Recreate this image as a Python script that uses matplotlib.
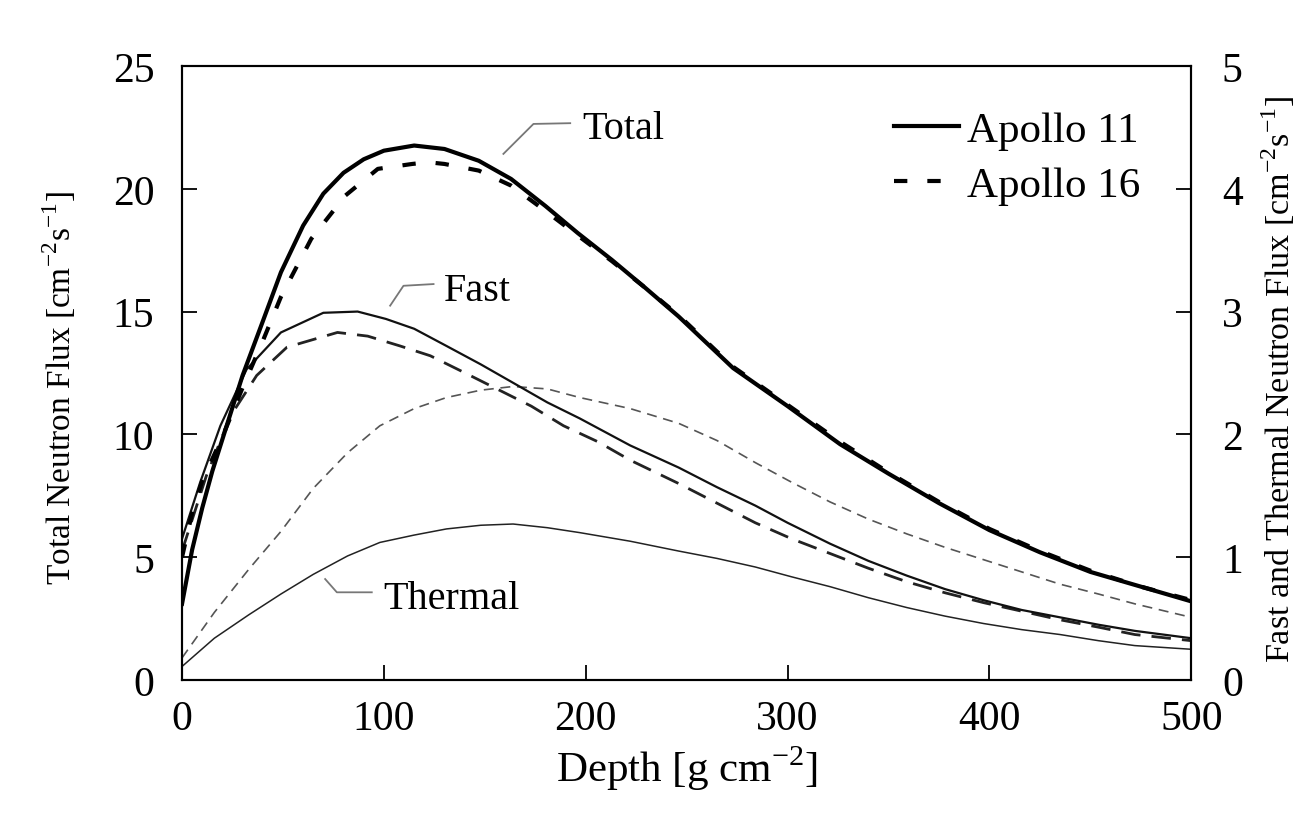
import matplotlib
matplotlib.use("Agg")
import matplotlib.pyplot as plt

plt.rcParams['font.family'] = ['Liberation Serif', 'DejaVu Serif']
plt.rcParams['mathtext.fontset'] = 'custom'
plt.rcParams['mathtext.rm'] = 'Liberation Serif'

# total neutron flux (left axis)
depth_tot11 = [0, 5, 10, 15, 20, 30, 40, 49, 60, 70, 80, 90, 100, 115, 130, 147, 163, 180, 196, 213, 229, 246, 273, 300, 326, 350, 375, 400, 425, 450, 475, 500]
total_a11 = [3.1, 5.3, 7.0, 8.5, 9.8, 12.4, 14.6, 16.6, 18.5, 19.8, 20.65, 21.2, 21.55, 21.76, 21.62, 21.14, 20.4, 19.3, 18.2, 17.1, 16.0, 14.8, 12.7, 11.15, 9.6, 8.4, 7.2, 6.1, 5.2, 4.4, 3.8, 3.2]
depth_tot16 = [0, 5, 10, 20, 30, 40, 49, 64, 81, 97, 114, 122, 130, 147, 163, 180, 196, 213, 229, 246, 273, 300, 326, 350, 375, 400, 425, 450, 475, 500]
total_a16 = [5.0, 6.8, 8.1, 9.9, 11.9, 13.8, 15.6, 17.96, 19.73, 20.81, 21.01, 21.08, 21.01, 20.74, 20.13, 19.1, 18.1, 17.05, 16.0, 14.85, 12.75, 11.2, 9.7, 8.45, 7.25, 6.15, 5.25, 4.45, 3.8, 3.25]

# fast and thermal flux (right axis)
depth_fast11 = [0, 9, 19, 32, 49, 70, 87, 101, 115, 131, 148, 164, 181, 197, 222, 246, 265, 284, 300, 321, 340, 359, 378, 397, 416, 435, 454, 472, 500]
fast_a11 = [1.15, 1.61, 2.07, 2.53, 2.83, 2.99, 3.0, 2.94, 2.86, 2.72, 2.57, 2.42, 2.26, 2.13, 1.91, 1.73, 1.57, 1.42, 1.28, 1.11, 0.97, 0.85, 0.74, 0.65, 0.57, 0.51, 0.45, 0.40, 0.34]
depth_fast16 = [0, 12, 24, 37, 52, 77, 92, 108, 123, 139, 156, 173, 189, 206, 222, 246, 265, 284, 302, 321, 340, 359, 378, 397, 416, 435, 454, 472, 500]
fast_a16 = [1.05, 1.66, 2.15, 2.48, 2.71, 2.83, 2.80, 2.72, 2.64, 2.51, 2.37, 2.23, 2.07, 1.94, 1.79, 1.60, 1.44, 1.28, 1.15, 1.03, 0.91, 0.80, 0.71, 0.63, 0.56, 0.49, 0.43, 0.37, 0.32]
depth_th = [0, 16, 33, 49, 65, 82, 98, 115, 131, 148, 164, 181, 197, 222, 246, 265, 284, 302, 321, 340, 359, 378, 397, 416, 435, 454, 472, 500]
thermal_a11 = [0.11, 0.34, 0.53, 0.70, 0.86, 1.01, 1.12, 1.18, 1.23, 1.26, 1.27, 1.24, 1.20, 1.13, 1.05, 0.99, 0.92, 0.84, 0.76, 0.67, 0.59, 0.52, 0.46, 0.41, 0.37, 0.32, 0.28, 0.25]
thermal_a16 = [0.18, 0.55, 0.90, 1.21, 1.56, 1.85, 2.07, 2.21, 2.30, 2.36, 2.39, 2.37, 2.30, 2.21, 2.09, 1.95, 1.77, 1.61, 1.45, 1.31, 1.19, 1.08, 0.98, 0.88, 0.78, 0.70, 0.62, 0.51]

unit = '[cm$^{\\mathregular{-2}}$s$^{\\mathregular{-1}}$]'

fig = plt.figure(figsize=(13.03, 8.37), dpi=100)
ax = fig.add_axes([0.1397, 0.1864, 0.7746, 0.7336])
ax2 = ax.twinx()

# right axis curves
ax2.plot(depth_th, thermal_a16, color='#555555', lw=1.2, dashes=(6, 4))
ax2.plot(depth_th, thermal_a11, color='#222222', lw=1.1)
ax2.plot(depth_fast16, fast_a16, color='#222222', lw=2.0, dashes=(7, 4))
ax2.plot(depth_fast11, fast_a11, color='#111111', lw=1.6)

# left axis curves
l11, = ax.plot(depth_tot11, total_a11, color='black', lw=3.0, label='Apollo 11')
l16, = ax.plot(depth_tot16, total_a16, color='black', lw=3.0, dashes=(3.2, 4.8), label='Apollo 16')
ax.set_zorder(ax2.get_zorder() + 1)
ax.patch.set_visible(False)

ax.set_xlim(0, 500)
ax.set_ylim(0, 25)
ax2.set_ylim(0, 5)
ax.set_xticks([0, 100, 200, 300, 400, 500])
ax.set_yticks([0, 5, 10, 15, 20, 25])
ax2.set_yticks([0, 1, 2, 3, 4, 5])

ax.tick_params(axis='both', direction='in', length=11, width=1.3, labelsize=30)
ax.tick_params(axis='y', pad=20)
ax.tick_params(axis='x', pad=14)
ax2.tick_params(axis='y', direction='in', length=11, width=1.3, labelsize=30, pad=22)
for a in (ax, ax2):
    for s in a.spines.values():
        s.set_linewidth(1.5)

ax.set_xlabel('Depth [g cm$^{\\mathregular{-2}}$]', fontsize=31, labelpad=4)
ax.set_ylabel('Total Neutron Flux ' + unit, fontsize=24)
ax.yaxis.set_label_coords(-0.103, 0.477)
fig.text(1259 / 1303, 0.547, 'Fast and Thermal Neutron Flux ' + unit,
         rotation=90, fontsize=24.5, ha='left', va='center')

# curve labels with leader lines
leaders = {
    'Total': ([159.2, 174.1, 192.3], [21.42, 22.64, 22.67], (198.1, 22.45)),
    'Fast': ([103.1, 109.7, 124.6], [15.24, 16.05, 16.12], (129.5, 15.85)),
    'Thermal': ([70.9, 76.7, 94.0], [4.11, 3.57, 3.57], (99.8, 3.33)),
}
for name, (lx, ly, (tx, ty)) in leaders.items():
    ax.plot(lx, ly, color='#777777', lw=1.3)
    ax.text(tx, ty, name, fontsize=29, ha='left', va='center')

ax.legend(handles=[l11, l16], loc='upper right', bbox_to_anchor=(0.988, 0.99),
          frameon=False, fontsize=31, handlelength=1.5, handletextpad=0.2,
          labelspacing=0.36)

fig.savefig('out.png', dpi=100)
